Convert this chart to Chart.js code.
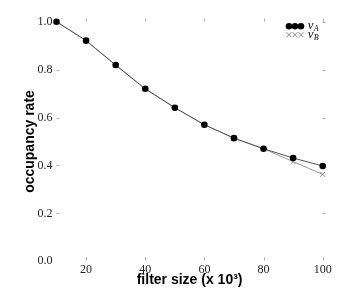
<!DOCTYPE html>
<html><head><meta charset="utf-8">
<script src="https://cdn.jsdelivr.net/npm/chart.js@4.4.0/dist/chart.umd.min.js"></script>
<style>html,body{margin:0;padding:0;background:#fff}#wrap{width:354px;height:304px}</style>
</head><body><div id="wrap"><canvas id="c" width="354" height="304"></canvas></div>
<script>
const filterSizes = [10, 20, 30, 40, 50, 60, 70, 80, 90, 100];
const occupancyA = [1.0, 0.921, 0.819, 0.720, 0.641, 0.570, 0.514, 0.470, 0.431, 0.398];
const occupancyB = [1.0, 0.921, 0.819, 0.720, 0.641, 0.570, 0.514, 0.470, 0.416, 0.363];
const xTickValues = [20, 40, 60, 80, 100];
const yTickValues = [0, 0.2, 0.4, 0.6, 0.8, 1.0];
const seriesNames = [['v', 'A'], ['v', 'B']];
const xTitle = 'filter size (x 10\u00B3)';
const yTitle = 'occupancy rate';

const tickMarks = {
  id: 'tickMarks',
  beforeDatasetsDraw(chart) {
    const {ctx, scales: {x, y}} = chart;
    const x0 = x.getPixelForValue(x.min), x1 = x.getPixelForValue(x.max);
    const y0 = y.getPixelForValue(y.min), y1 = y.getPixelForValue(y.max);
    ctx.save();
    ctx.strokeStyle = '#aaa';
    ctx.lineWidth = 1;
    ctx.beginPath();
    xTickValues.forEach(v => {
      const px = Math.round(x.getPixelForValue(v)) + 0.5;
      ctx.moveTo(px, y0 - 4); ctx.lineTo(px, y0 - 1);
      ctx.moveTo(px, y1 - 3); ctx.lineTo(px, y1);
    });
    yTickValues.filter(v => v > 0).forEach(v => {
      const py = Math.round(y.getPixelForValue(v)) + 0.5;
      ctx.moveTo(x0, py); ctx.lineTo(x0 + 3, py);
      ctx.moveTo(x1, py); ctx.lineTo(x1 + 3, py);
    });
    ctx.stroke();
    ctx.restore();
  }
};

const customLegend = {
  id: 'customLegend',
  afterDraw(chart) {
    const ctx = chart.ctx, area = chart.chartArea;
    const rowY = [area.top + 4.5, area.top + 13];
    const markX = [area.right - 33.7, area.right - 27.7, area.right - 21.7];
    chart.data.datasets.forEach((d, i) => {
      ctx.save();
      ctx.fillStyle = d.pointBackgroundColor;
      ctx.strokeStyle = d.pointBorderColor;
      ctx.lineWidth = d.pointBorderWidth;
      markX.forEach(mx => Chart.helpers.drawPoint(ctx, {pointStyle: d.pointStyle, radius: d.pointRadius, borderWidth: d.pointBorderWidth, rotation: 0}, mx, rowY[i]));
      ctx.fillStyle = '#111';
      ctx.textBaseline = 'alphabetic';
      ctx.font = 'italic 13px "Liberation Serif"';
      ctx.fillText(seriesNames[i][0], area.right - 15, rowY[i] + 3);
      ctx.font = 'italic 8px "Liberation Serif"';
      ctx.fillText(seriesNames[i][1], area.right - 9, rowY[i] + 5);
      ctx.restore();
    });
  }
};

new Chart(document.getElementById('c'), {
  type: 'line',
  data: {
    datasets: [
      {
        label: 'vA',
        data: filterSizes.map((v, i) => ({x: v, y: occupancyA[i]})),
        borderColor: '#555', borderWidth: 1,
        pointStyle: 'circle', pointRadius: 3.3,
        pointBackgroundColor: '#000', pointBorderColor: '#000', pointBorderWidth: 0,
        tension: 0, clip: false
      },
      {
        label: 'vB',
        data: filterSizes.map((v, i) => ({x: v, y: occupancyB[i]})),
        borderColor: '#999', borderWidth: 1,
        pointStyle: 'crossRot', pointRadius: 3.5,
        pointBackgroundColor: '#888', pointBorderColor: '#888', pointBorderWidth: 1,
        tension: 0, clip: false
      }
    ]
  },
  options: {
    responsive: false,
    animation: false,
    layout: {padding: {top: 21.7, right: 31.3, left: 0, bottom: 0}},
    plugins: {legend: {display: false}, tooltip: {enabled: false}},
    scales: {
      x: {
        type: 'linear', min: 10, max: 100,
        afterBuildTicks: s => { s.ticks = xTickValues.map(v => ({value: v})); },
        afterFit: s => { s.height = 42.7; },
        grid: {display: false, drawTicks: false, tickLength: 0},
        border: {display: false},
        ticks: {font: {family: 'Liberation Serif', size: 12}, color: '#222', padding: 1, maxRotation: 0, autoSkip: false},
        title: {display: true, text: xTitle, color: '#000', font: {family: 'Liberation Sans', weight: 'bold', size: 14}, padding: {top: 0, bottom: 15.6}}
      },
      y: {
        type: 'linear', min: 0, max: 1,
        afterBuildTicks: s => { s.ticks = yTickValues.map(v => ({value: v})); },
        afterFit: s => { s.width = 56.5; },
        grid: {display: false, drawTicks: false, tickLength: 0},
        border: {display: false},
        ticks: {font: {family: 'Liberation Serif', size: 12}, color: '#222', padding: 4, callback: v => Number(v).toFixed(1)},
        title: {display: true, text: yTitle, color: '#000', font: {family: 'Liberation Sans', weight: 'bold', size: 14}, padding: {top: 21.6, bottom: 0}}
      }
    }
  },
  plugins: [tickMarks, customLegend]
});
</script>
</body></html>
